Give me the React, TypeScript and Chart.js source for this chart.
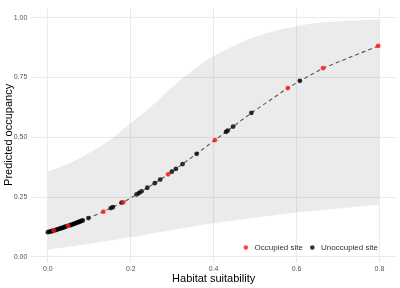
import React, { useEffect, useRef } from "react";
import { Chart, registerables } from "chart.js";

Chart.register(...registerables);

const occupiedX = [0.014, 0.049, 0.134, 0.182, 0.29, 0.403, 0.579, 0.664, 0.797];
const occupiedY = [0.111, 0.13, 0.189, 0.228, 0.345, 0.488, 0.706, 0.789, 0.882];

const unoccupiedX = [
  0.0, 0.004, 0.008, 0.011, 0.017, 0.02, 0.023, 0.026, 0.029, 0.032, 0.035, 0.038, 0.041, 0.044,
  0.053, 0.057, 0.06, 0.063, 0.066, 0.069, 0.072, 0.075, 0.078, 0.081, 0.084, 0.098,
  0.152, 0.157, 0.178, 0.214, 0.22, 0.226, 0.24, 0.258, 0.271, 0.299, 0.309, 0.325, 0.359,
  0.43, 0.434, 0.447, 0.491, 0.608,
];
const unoccupiedY = [
  0.103, 0.105, 0.107, 0.108, 0.111, 0.113, 0.115, 0.116, 0.118, 0.12, 0.121, 0.123, 0.125, 0.127,
  0.132, 0.134, 0.136, 0.138, 0.14, 0.142, 0.144, 0.146, 0.148, 0.15, 0.152, 0.162,
  0.204, 0.208, 0.227, 0.261, 0.267, 0.274, 0.289, 0.308, 0.323, 0.356, 0.368, 0.388, 0.431,
  0.523, 0.528, 0.545, 0.602, 0.736,
];

const ribbonX = [0, 0.05, 0.1, 0.15, 0.2, 0.25, 0.3, 0.35, 0.4, 0.5, 0.6, 0.7, 0.8];
const ribbonUpper = [0.356, 0.39, 0.435, 0.49, 0.56, 0.63, 0.71, 0.78, 0.84, 0.92, 0.965, 0.985, 0.993];
const ribbonLower = [0.03, 0.042, 0.055, 0.068, 0.082, 0.097, 0.112, 0.127, 0.14, 0.163, 0.185, 0.202, 0.218];

const xTicks = [0, 0.2, 0.4, 0.6, 0.8];
const yTicks = [0, 0.25, 0.5, 0.75, 1];

const legendLabels = ["Occupied site", "Unoccupied site"];
const RED = "rgba(255,20,20,0.8)";
const BLACK = "rgba(0,0,0,0.8)";
const FONT = "'Liberation Sans', Arial, sans-serif";

export default function App() {
  const ref = useRef<HTMLCanvasElement | null>(null);

  useEffect(() => {
    if (!ref.current) return;
    const occ = occupiedX.map((x, i) => ({ x, y: occupiedY[i] }));
    const unocc = unoccupiedX.map((x, i) => ({ x, y: unoccupiedY[i] }));
    const fitted = [...occ, ...unocc].sort((a, b) => a.x - b.x);
    const lower = ribbonX.map((x, i) => ({ x, y: ribbonLower[i] }));
    const upper = ribbonX.map((x, i) => ({ x, y: ribbonUpper[i] }));

    const legendPlugin = {
      id: "insideLegend",
      afterDraw(chart: any) {
        const ctx = chart.ctx;
        ctx.save();
        ctx.font = `8px ${FONT}`;
        ctx.textBaseline = "middle";
        ctx.textAlign = "left";
        const y = 247.5;
        const items = [
          { label: legendLabels[0], color: RED, dot: 245.8, tx: 254.5 },
          { label: legendLabels[1], color: BLACK, dot: 312.3, tx: 321 },
        ];
        for (const it of items) {
          ctx.fillStyle = it.color;
          ctx.beginPath();
          ctx.arc(it.dot, y, 2.3, 0, Math.PI * 2);
          ctx.fill();
          ctx.fillStyle = "#333333";
          ctx.fillText(it.label, it.tx, y);
        }
        ctx.restore();
      },
    };

    const chart = new Chart(ref.current, {
      type: "scatter",
      data: {
        datasets: [
          {
            label: legendLabels[0],
            data: occ,
            backgroundColor: RED,
            borderColor: RED,
            borderWidth: 0,
            pointRadius: 2.4,
          },
          {
            label: legendLabels[1],
            data: unocc,
            backgroundColor: BLACK,
            borderColor: BLACK,
            borderWidth: 0,
            pointRadius: 2.4,
          },
          {
            type: "line",
            label: "fit",
            data: fitted,
            showLine: true,
            borderColor: "#555555",
            borderWidth: 1.1,
            borderDash: [4, 3],
            pointRadius: 0,
            fill: false,
            tension: 0,
          } as any,
          {
            type: "line",
            label: "lower",
            data: lower,
            showLine: true,
            borderWidth: 0,
            borderColor: "rgba(0,0,0,0)",
            pointRadius: 0,
            fill: false,
            tension: 0.4,
          } as any,
          {
            type: "line",
            label: "upper",
            data: upper,
            showLine: true,
            borderWidth: 0,
            borderColor: "rgba(0,0,0,0)",
            backgroundColor: "rgba(0,0,0,0.08)",
            pointRadius: 0,
            fill: "-1",
            tension: 0.4,
          } as any,
        ],
      },
      options: {
        responsive: false,
        animation: false,
        layout: { padding: { top: 3.5, right: 0.6, left: 0, bottom: 0 } },
        plugins: {
          legend: { display: false },
          tooltip: { enabled: false },
        },
        scales: {
          x: {
            type: "linear",
            min: -0.04,
            max: 0.84,
            afterBuildTicks: (s: any) => {
              s.ticks = xTicks.map((v) => ({ value: v }));
            },
            afterFit: (s: any) => {
              s.height = 26.4;
            },
            ticks: {
              callback: (v: any) => Number(v).toFixed(1),
              color: "#555555",
              font: { family: FONT, size: 7 },
              padding: 3,
              maxRotation: 0,
            },
            grid: { color: "#EBEBEB", lineWidth: 1, drawTicks: false },
            border: { display: false },
            title: {
              display: true,
              text: "Habitat suitability",
              color: "#000000",
              font: { family: FONT, size: 11 },
              padding: { top: 0, bottom: 2 },
            },
          },
          y: {
            type: "linear",
            min: -0.02,
            max: 1.04,
            afterBuildTicks: (s: any) => {
              s.ticks = yTicks.map((v) => ({ value: v }));
            },
            afterFit: (s: any) => {
              s.width = 31.3;
            },
            ticks: {
              callback: (v: any) => Number(v).toFixed(2),
              color: "#555555",
              font: { family: FONT, size: 7 },
              padding: 4,
            },
            grid: { color: "#EBEBEB", lineWidth: 1, drawTicks: false },
            border: { display: false },
            title: {
              display: true,
              text: "Predicted occupancy",
              color: "#000000",
              font: { family: FONT, size: 11 },
              padding: { top: 2, bottom: 0 },
            },
          },
        },
      },
      plugins: [legendPlugin],
    } as any);

    return () => chart.destroy();
  }, []);

  return (
    <div style={{ position: "fixed", left: 0, top: 0, width: 400, height: 288, background: "#fff" }}>
      <canvas ref={ref} width={400} height={288} style={{ display: "block" }} />
    </div>
  );
}
